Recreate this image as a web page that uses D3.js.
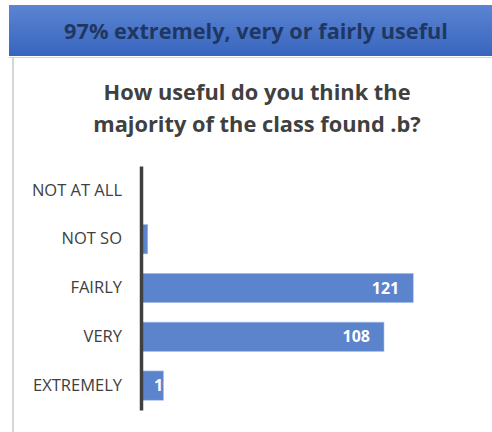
<!DOCTYPE html>
<html>
<head>
<meta charset="utf-8">
<script src="https://cdn.jsdelivr.net/npm/d3@7"></script>
<style>
  body { margin: 0; background: #fff; }
  text { font-family: 'Open Sans', 'Noto Sans', sans-serif; }
</style>
</head>
<body>
<div id="chart"></div>
<script>
const categories = ['NOT AT ALL', 'NOT SO', 'FAIRLY', 'VERY', 'EXTREMELY']
const counts = [0, 3, 121, 108, 10]
const banner = '97% extremely, very or fairly useful'
const titleLines = ['How useful do you think the', 'majority of the class found .b?']

const W = 492
const H = 432

const svg = d3.select('#chart')
  .append('svg')
  .attr('width', W)
  .attr('height', H)

// header gradient
const grad = svg.append('defs').append('linearGradient')
  .attr('id', 'hdr')
  .attr('x1', 0).attr('y1', 0).attr('x2', 0).attr('y2', 1)
grad.append('stop').attr('offset', '0%').attr('stop-color', '#5b84d2')
grad.append('stop').attr('offset', '100%').attr('stop-color', '#3865bd')

// left border of the slide panel
svg.append('line')
  .attr('x1', 13).attr('x2', 13)
  .attr('y1', 57).attr('y2', H)
  .attr('stroke', '#c9c9c9')
  .attr('stroke-width', 1.5)

svg.append('line')
  .attr('x1', 9).attr('x2', W)
  .attr('y1', 57.5).attr('y2', 57.5)
  .attr('stroke', '#d6d6d6')
  .attr('stroke-width', 1)

svg.append('rect')
  .attr('x', 9).attr('y', 5)
  .attr('width', W - 9).attr('height', 51)
  .attr('fill', 'url(#hdr)')

svg.append('text')
  .attr('x', 256).attr('y', 39)
  .attr('text-anchor', 'middle')
  .attr('font-size', 21.7)
  .attr('font-weight', 700)
  .attr('fill', '#1f3763')
  .text(banner)

svg.selectAll('.title')
  .data(titleLines)
  .enter()
  .append('text')
  .attr('class', 'title')
  .attr('x', 257)
  .attr('y', (d, i) => 100 + i * 32)
  .attr('text-anchor', 'middle')
  .attr('font-size', 21.8)
  .attr('font-weight', 700)
  .attr('fill', '#404040')
  .text(d => d)

const x = d3.scaleLinear()
  .domain([0, 140])
  .range([141, 456])

const y = d3.scaleBand()
  .domain(categories)
  .range([166, 410])
  .paddingInner(0.4)
  .paddingOuter(0.2)

const data = categories.map((c, i) => ({ cat: c, n: counts[i] }))

const bars = svg.append('g')
bars.selectAll('rect')
  .data(data)
  .enter()
  .append('rect')
  .attr('x', x(0))
  .attr('y', d => y(d.cat))
  .attr('width', d => x(d.n) - x(0))
  .attr('height', y.bandwidth())
  .attr('fill', '#5b84cc')
  .attr('stroke', '#aac0e8')
  .attr('stroke-width', 0.6)

// clip each label to its bar, like the original
const defs = svg.select('defs')
data.forEach((d, i) => {
  defs.append('clipPath').attr('id', 'clip' + i)
    .append('rect')
    .attr('x', x(0))
    .attr('y', y(d.cat))
    .attr('width', x(d.n) - x(0))
    .attr('height', y.bandwidth())
})

bars.selectAll('.lbl')
  .data(data.filter(d => d.n > 5))
  .enter()
  .append('text')
  .attr('class', 'lbl')
  .attr('clip-path', d => 'url(#clip' + categories.indexOf(d.cat) + ')')
  .attr('x', d => d.n > 30 ? x(d.n) - 14 : x(0) + 13)
  .attr('y', d => y(d.cat) + y.bandwidth() / 2 + 5.5)
  .attr('text-anchor', d => d.n > 30 ? 'end' : 'start')
  .attr('font-size', 16)
  .attr('font-weight', 700)
  .attr('fill', '#fff')
  .text(d => d.n)

const yAxis = svg.append('g')
  .attr('transform', 'translate(' + x(0) + ',0)')
  .call(d3.axisLeft(y).tickSize(0).tickPadding(19))

yAxis.select('.domain')
  .attr('stroke', '#404040')
  .attr('stroke-width', 3.5)
yAxis.selectAll('text')
  .attr('font-size', 16.5)
  .attr('font-family', "'Open Sans', sans-serif")
  .attr('fill', '#404040')
</script>
</body>
</html>
